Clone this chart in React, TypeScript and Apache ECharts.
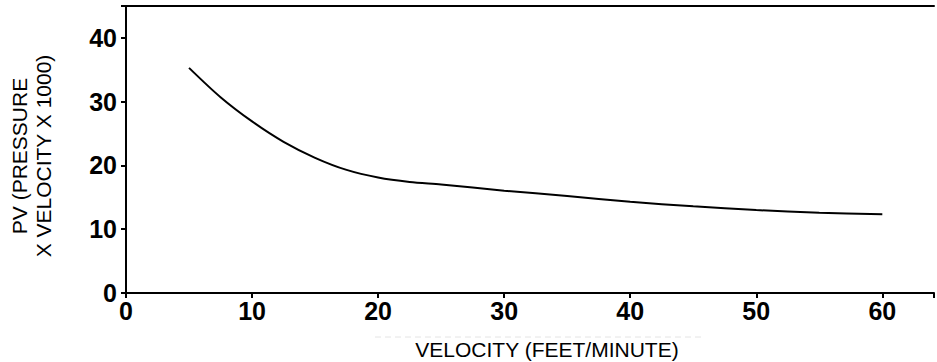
import React, { useEffect, useRef } from "react";
import * as echarts from "echarts";

const velocity = [5, 7.5, 10, 12.5, 15, 17.5, 20, 22.5, 25, 30, 35, 40, 45, 50, 55, 60];
const pvValues = [35.3, 30.7, 26.9, 23.7, 21.2, 19.3, 18.1, 17.4, 17.0, 16.05, 15.2, 14.3, 13.6, 13.0, 12.6, 12.35];
const yTitle = "PV (PRESSURE\nX VELOCITY X 1000)";
const xTitle = "VELOCITY (FEET/MINUTE)";

const FONT = "'Liberation Sans', Arial, sans-serif";

export default function App() {
  const ref = useRef<HTMLDivElement>(null);
  useEffect(() => {
    if (!ref.current) return;
    const chart = echarts.init(ref.current, null, { renderer: "svg" });
    const data = velocity.map((v, i) => [v, pvValues[i]]);
    const tickFmt = (v: number) => (v % 10 === 0 ? String(v) : "");
    chart.setOption({
      animation: false,
      backgroundColor: "#fff",
      grid: { left: 126, top: 6, right: 0, bottom: 69, containLabel: false },
      xAxis: [
        {
          type: "value",
          min: 0,
          max: 64.1,
          interval: 10,
          position: "bottom",
          splitLine: { show: false },
          axisLine: { show: true, onZero: false, lineStyle: { color: "#000", width: 2 } },
          axisTick: { show: true, length: 5, lineStyle: { color: "#000", width: 2 } },
          axisLabel: {
            color: "#000",
            fontSize: 25,
            fontWeight: "bold",
            fontFamily: FONT,
            margin: 5,
            formatter: tickFmt,
          },
        },
        {
          type: "value",
          min: 0,
          max: 64.1,
          position: "top",
          splitLine: { show: false },
          axisLine: { show: true, onZero: false, lineStyle: { color: "#000", width: 2 } },
          axisTick: { show: false },
          axisLabel: { show: false },
        },
      ],
      yAxis: {
        type: "value",
        min: 0,
        max: 45,
        interval: 10,
        splitLine: { show: false },
        axisLine: { show: true, onZero: false, lineStyle: { color: "#000", width: 2 } },
        axisTick: { show: true, length: 5, lineStyle: { color: "#000", width: 2 } },
        axisLabel: {
          color: "#000",
          fontSize: 25,
          fontWeight: "bold",
          fontFamily: FONT,
          margin: 9,
          formatter: tickFmt,
        },
      },
      series: [
        {
          type: "line",
          xAxisIndex: 0,
          data,
          smooth: 0.3,
          showSymbol: false,
          lineStyle: { color: "#000", width: 2 },
        },
      ],
      graphic: [
        {
          type: "line",
          shape: { x1: 375, y1: 337, x2: 705, y2: 337 },
          style: { stroke: "#e4e4e4", lineWidth: 1, lineDash: [6, 4] },
          silent: true,
        },
        {
          type: "text",
          x: 547,
          y: 349,
          style: {
            text: xTitle,
            fill: "#000",
            font: `21px ${FONT}`,
            align: "center",
            verticalAlign: "middle",
          },
        },
        {
          type: "text",
          x: 31,
          y: 156,
          rotation: Math.PI / 2,
          style: {
            text: yTitle,
            fill: "#000",
            font: `21px ${FONT}`,
            lineHeight: 24,
            align: "center",
            verticalAlign: "middle",
          },
        },
      ],
    });
    return () => chart.dispose();
  }, []);
  return (
    <div
      ref={ref}
      style={{ position: "absolute", left: 0, top: 0, width: 937, height: 362 }}
    />
  );
}
